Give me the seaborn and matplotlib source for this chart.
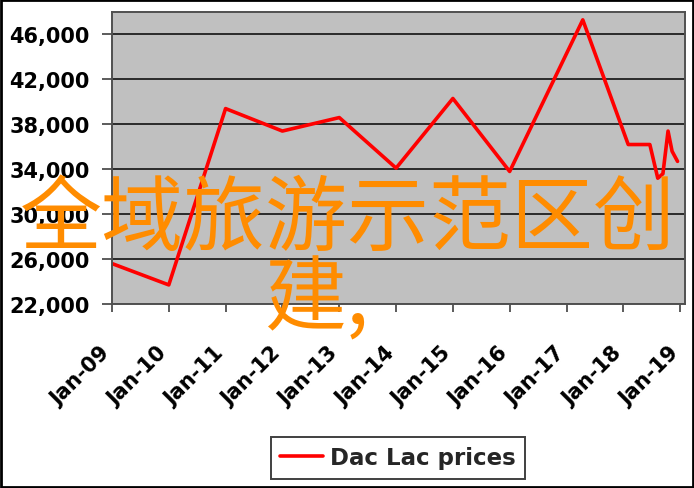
import matplotlib
matplotlib.use("Agg")
import matplotlib.dates as mdates
import matplotlib.pyplot as plt
import matplotlib.transforms as mtransforms
import pandas as pd
import seaborn as sns
from matplotlib.patches import Rectangle

# values
dates = [
    "2009-01-01", "2010-01-01", "2011-01-01", "2012-01-01", "2013-01-01",
    "2014-01-01", "2015-01-01", "2016-01-01", "2017-04-15", "2018-02-01",
    "2018-06-20", "2018-08-10", "2018-09-12", "2018-10-15", "2018-11-10",
    "2018-12-15",
]
prices = [
    25600, 23700, 39400, 37400, 38600,
    34100, 40300, 33800, 47300, 36200,
    36200, 33200, 33600, 37400, 35600,
    34700,
]
series_name = "Dac Lac prices"
y_ticks = [22000, 26000, 30000, 34000, 38000, 42000, 46000]
overlay_line1 = "全域旅游示范区创"
overlay_line2 = "建,"


def main() -> None:
    df = pd.DataFrame({"date": pd.to_datetime(dates), "price": prices})

    sns.set_theme(style="ticks")
    plt.rcParams["font.family"] = ["DejaVu Sans"]

    fig = plt.figure(figsize=(6.94, 4.89), dpi=100)
    ax = fig.add_axes([112 / 694, 1 - 305 / 489, (685 - 112) / 694, (305 - 13) / 489])
    ax.set_facecolor("#c0c0c0")

    sns.lineplot(data=df, x="date", y="price", ax=ax, color="#ff0000",
                 linewidth=2.6, label=series_name)
    if ax.get_legend() is not None:
        ax.get_legend().remove()

    ax.set_xlim(pd.Timestamp("2009-01-01"), pd.Timestamp("2019-02-01"))
    ax.set_ylim(22000, 48000)
    ax.set_yticks(y_ticks)
    ax.yaxis.set_major_formatter(matplotlib.ticker.StrMethodFormatter("{x:,.0f}"))
    ax.xaxis.set_major_locator(mdates.YearLocator())
    ax.xaxis.set_major_formatter(mdates.DateFormatter("%b-%y"))
    ax.set_xlabel("")
    ax.set_ylabel("")

    ax.grid(axis="y", color="#2a2a2a", linewidth=1.4)
    ax.grid(axis="x", visible=False)
    for spine in ax.spines.values():
        spine.set_visible(True)
        spine.set_color("#505050")
        spine.set_linewidth(1.4)

    ax.tick_params(axis="y", length=7, width=1.2, color="#404040", pad=9,
                   labelsize=15, labelcolor="black")
    ax.tick_params(axis="x", length=6, width=1.2, color="#404040", pad=25,
                   labelsize=15, labelcolor="black")
    for label in ax.get_yticklabels():
        label.set_fontweight("bold")
    shift = mtransforms.ScaledTranslation(-5 / 100, -2 / 100, fig.dpi_scale_trans)
    for label in ax.get_xticklabels():
        label.set_fontweight("bold")
        label.set_rotation(45)
        label.set_ha("right")
        label.set_va("center")
        label.set_rotation_mode("anchor")
        label.set_transform(label.get_transform() + shift)

    handles, labels = ax.get_legend_handles_labels()
    leg = fig.legend(handles, labels, loc="center", bbox_to_anchor=(398 / 694, 1 - 459 / 489),
                     frameon=True, fancybox=False, shadow=False, borderpad=0.4,
                     handlelength=1.9, handletextpad=0.3, borderaxespad=0,
                     prop={"weight": "bold", "size": 16.5})
    leg.get_frame().set_edgecolor("#404040")
    leg.get_frame().set_linewidth(1.4)
    leg.get_frame().set_facecolor("white")
    leg.get_frame().set_alpha(1)

    cjk = ["Noto Sans CJK SC", "DejaVu Sans"]
    fig.text(348 / 694, 1 - 244 / 489, overlay_line1, ha="center", va="baseline",
             fontsize=59, color="#ff8c00", family=cjk)
    fig.text(264 / 694, 1 - 324 / 489, overlay_line2, ha="left", va="baseline",
             fontsize=59, color="#ff8c00", family=cjk)

    fig.patches.append(Rectangle((0.002, 0.003), 0.996, 0.994, transform=fig.transFigure,
                                 fill=False, edgecolor="black", linewidth=2))

    fig.savefig("out.png", dpi=100, facecolor="white")
    plt.close(fig)


if __name__ == "__main__":
    main()
